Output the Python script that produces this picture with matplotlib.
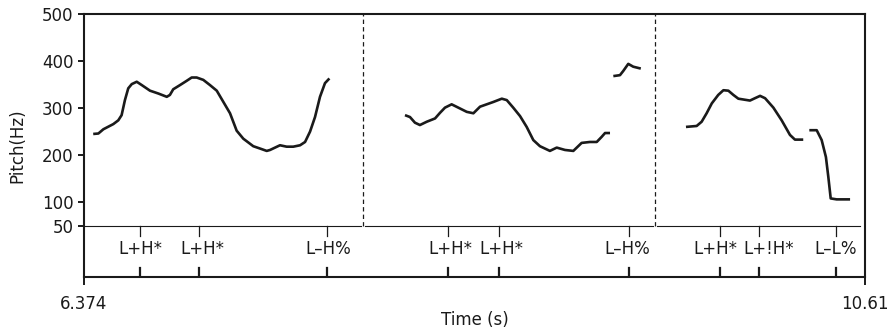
import matplotlib
matplotlib.use('Agg')
import matplotlib.pyplot as plt

# pitch contour pieces (time in s, pitch in Hz)
t1 = [6.424, 6.452, 6.479, 6.533, 6.560, 6.578, 6.596, 6.614, 6.633, 6.660,
      6.687, 6.732, 6.777, 6.823, 6.840, 6.858, 6.895, 6.931, 6.958, 6.985,
      7.021, 7.057, 7.094, 7.130, 7.166, 7.202, 7.238, 7.292, 7.329, 7.365,
      7.383, 7.437, 7.473, 7.509, 7.546, 7.573, 7.600, 7.627, 7.654, 7.681, 7.705]
f1 = [245, 246, 255, 266, 274, 285, 317, 342, 351, 356,
      349, 337, 331, 324, 328, 340, 349, 358, 365, 365,
      360, 349, 337, 313, 289, 252, 235, 219, 214, 209,
      211, 221, 218, 218, 221, 228, 250, 281, 324, 353, 363]

t2 = [8.115, 8.142, 8.169, 8.196, 8.233, 8.278, 8.305, 8.332, 8.368, 8.404,
      8.450, 8.486, 8.522, 8.558, 8.594, 8.640, 8.667, 8.702, 8.739, 8.775,
      8.811, 8.847, 8.901, 8.938, 8.983, 9.028, 9.073, 9.118, 9.155, 9.182,
      9.200, 9.227]
f2 = [285, 281, 269, 264, 271, 278, 290, 301, 308, 301,
      292, 289, 303, 308, 313, 320, 317, 301, 283, 260,
      232, 219, 209, 216, 211, 209, 226, 228, 228, 239,
      247, 247]

t3 = [9.245, 9.281, 9.299, 9.326, 9.353, 9.394]
f3 = [368, 370, 379, 394, 388, 384]

t4 = [9.639, 9.697, 9.724, 9.751, 9.779, 9.814, 9.842, 9.869, 9.896, 9.923,
      9.986, 10.013, 10.041, 10.068, 10.113, 10.158, 10.203, 10.230, 10.275]
f4 = [260, 262, 271, 289, 310, 328, 338, 337, 328, 320,
      316, 321, 326, 321, 301, 274, 243, 233, 233]

t5 = [10.308, 10.348, 10.375, 10.398, 10.411, 10.424, 10.456, 10.529]
f5 = [253, 253, 232, 196, 154, 108, 106, 106]

# tone tier: tick times, label positions, labels
tone_times = [6.678, 6.996, 7.690, 8.348, 8.627, 9.332, 9.824, 10.037, 10.453]
label_times = [6.682, 7.014, 7.697, 8.359, 8.636, 9.319, 9.796, 10.087, 10.453]
tone_labels = ['L+H*', 'L+H*', 'L\u2013H%', 'L+H*', 'L+H*', 'L\u2013H%',
               'L+H*', 'L+!H*', 'L\u2013L%']
boundaries = [7.887, 9.471]

t_start, t_end = 6.374, 10.61
yticks = [50, 100, 200, 300, 400, 500]

plt.rcParams['font.family'] = 'DejaVu Sans'
plt.rcParams['font.size'] = 12

fig = plt.figure(figsize=(8.92, 3.30), dpi=100)
ax = fig.add_axes([84/892, 53/330, 781/892, 263/330])

for t, f in [(t1, f1), (t2, f2), (t3, f3), (t4, f4), (t5, f5)]:
    ax.plot(t, f, color='#1a1a1a', lw=1.9, solid_capstyle='butt')

ybot = -59
ax.set_xlim(t_start, t_end)
ax.set_ylim(ybot, 500)

# line separating pitch panel from tone tier, broken at the boundaries
gap = 0.012
xs = [t_start] + [b for b in boundaries for _ in (0, 1)] + [10.583]
for i in range(0, len(xs), 2):
    x0 = xs[i] + (gap if i > 0 else 0)
    x1 = xs[i + 1] - (gap if i + 1 < len(xs) - 1 else 0)
    ax.plot([x0, x1], [50, 50], color='#1a1a1a', lw=0.8)

for b in boundaries:
    ax.plot([b, b], [50, 500], color='#1a1a1a', lw=0.9, linestyle=(0, (3.5, 2.5)))

for t in tone_times:
    ax.plot([t, t], [50, 29], color='#1a1a1a', lw=0.9)
    ax.plot([t, t], [ybot, ybot + 19], color='#1a1a1a', lw=1.6)
for t, lab in zip(label_times, tone_labels):
    ax.text(t, 0, lab, ha='center', va='center', fontsize=12, color='#1a1a1a')

ax.set_yticks(yticks)
ax.set_xticks([t_start, t_end])
ax.set_xticklabels(['6.374', '10.61'])
ax.tick_params(axis='y', length=4.5, width=1.4, colors='#1a1a1a', pad=3)
ax.tick_params(axis='x', length=6, width=1.4, colors='#1a1a1a', pad=7)
for s in ax.spines.values():
    s.set_linewidth(1.5)
    s.set_color('#1a1a1a')

ax.set_ylabel('Pitch(Hz)', color='#1a1a1a')
ax.yaxis.set_label_coords(-0.074, 0.5)
ax.set_xlabel('Time (s)', color='#1a1a1a')
ax.xaxis.set_label_coords(0.5, -0.128)

fig.savefig('out.png', dpi=100)
